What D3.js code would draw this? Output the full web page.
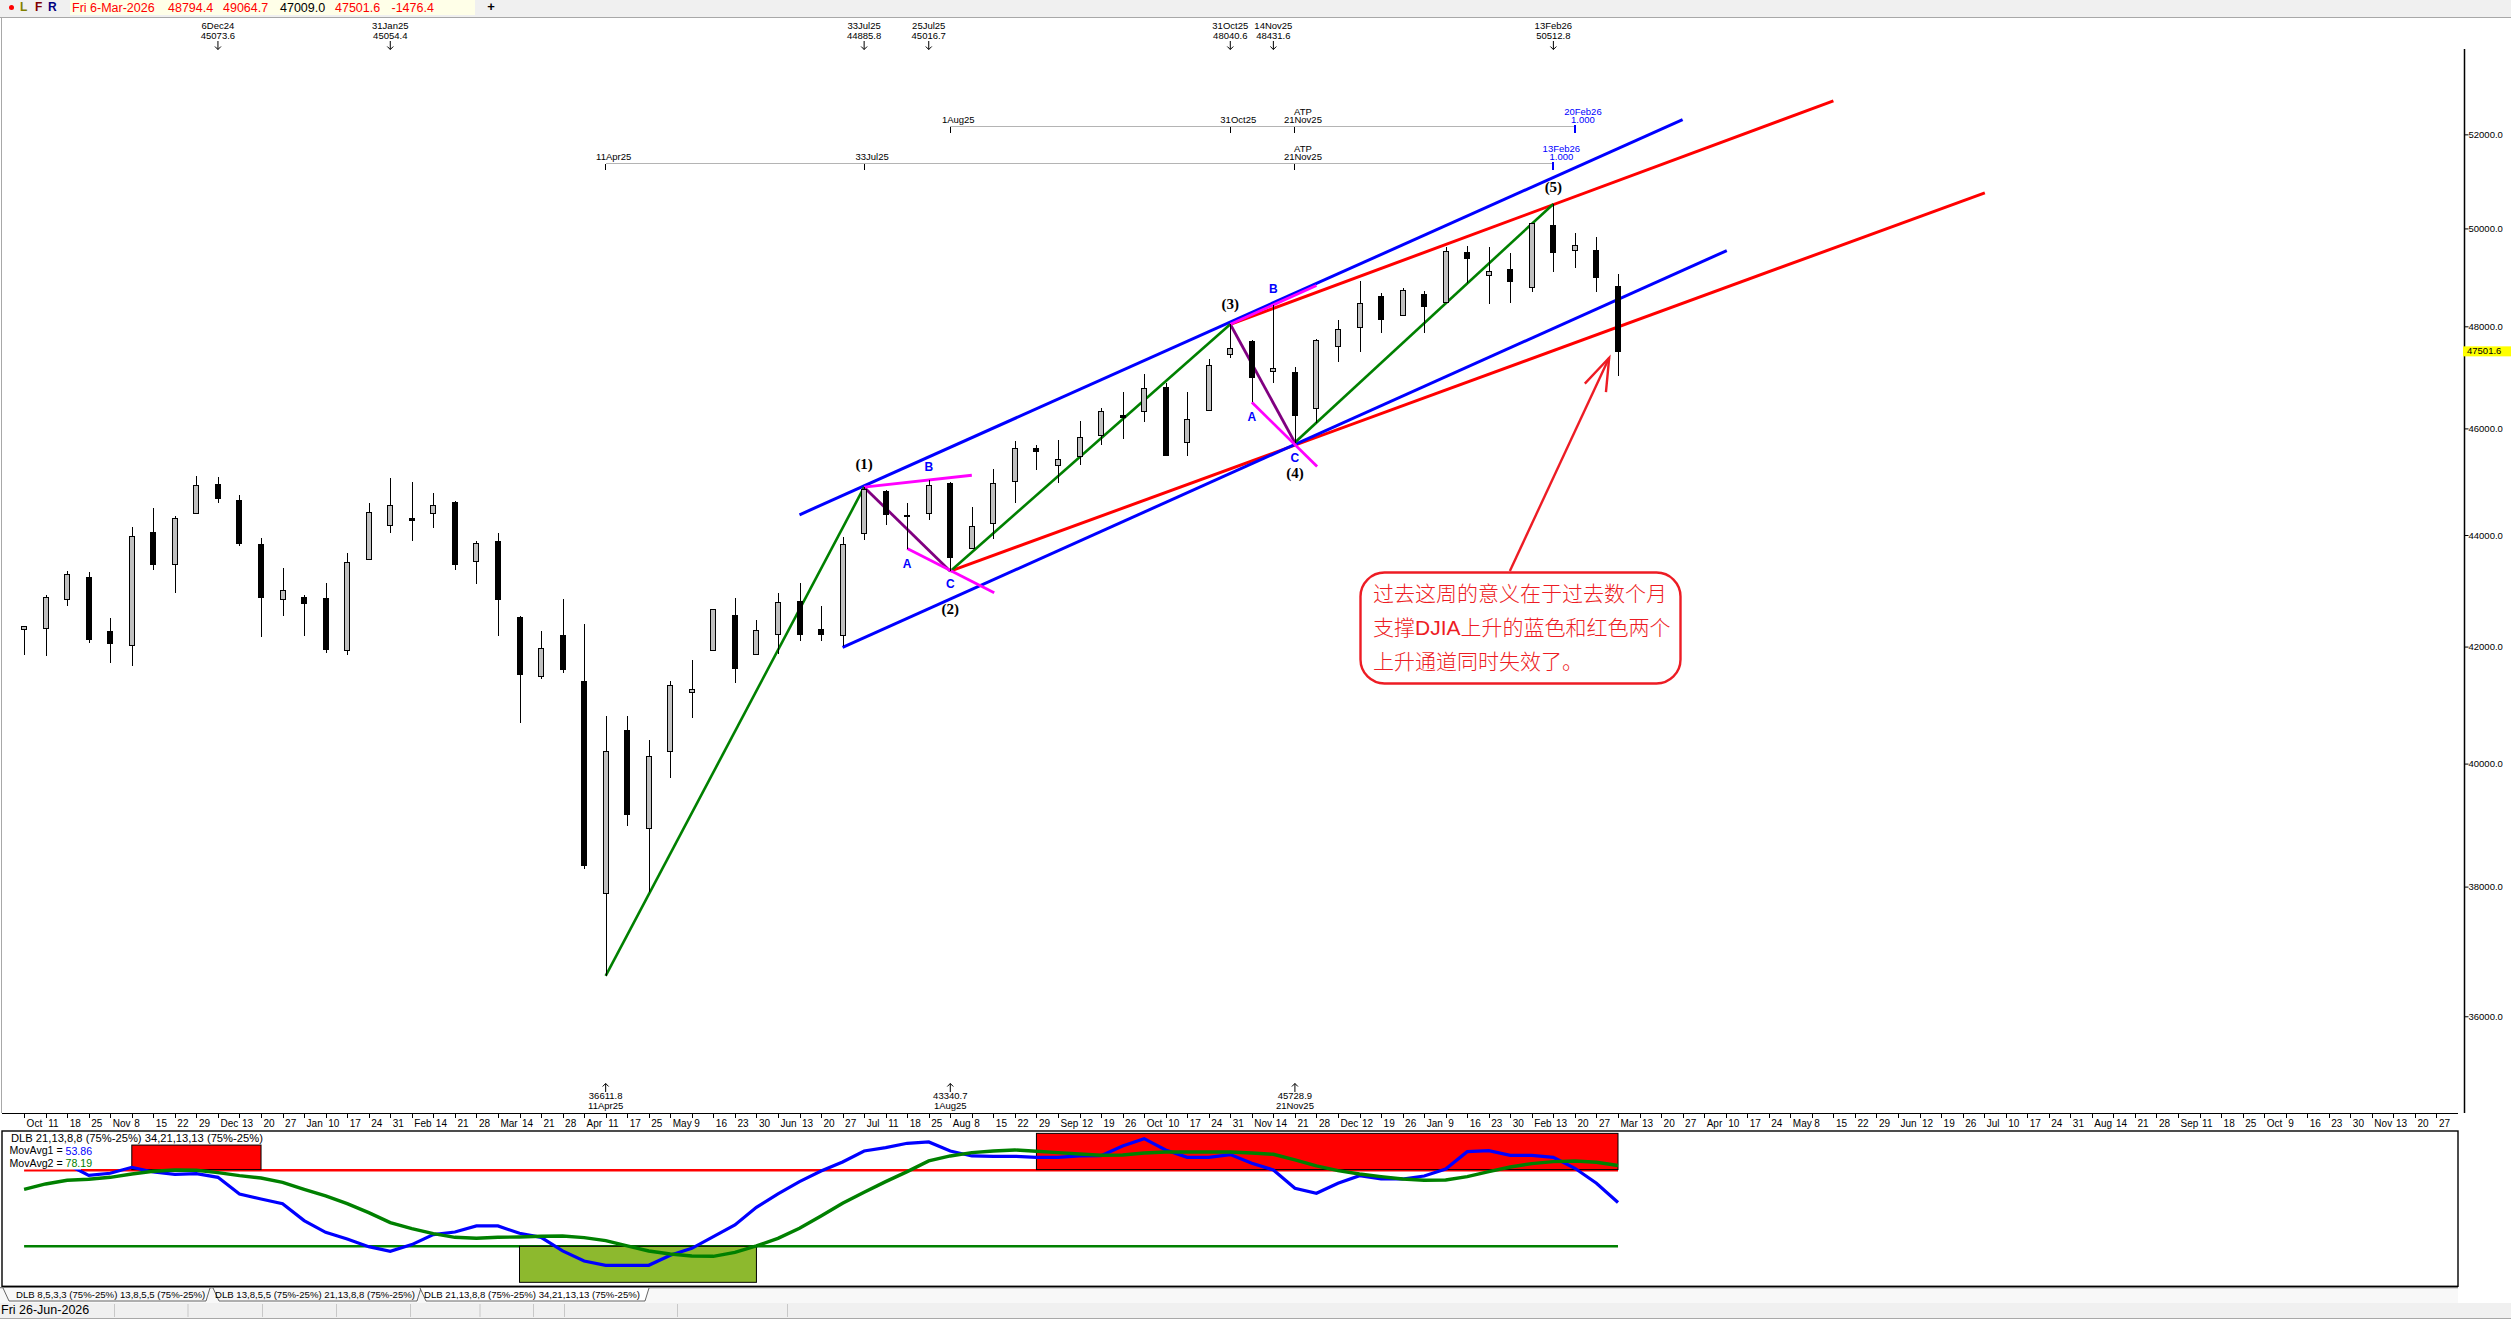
<!DOCTYPE html>
<html>
<head>
<meta charset="utf-8">
<title>DJIA weekly</title>
<script src="https://cdn.jsdelivr.net/npm/d3@7/dist/d3.min.js"></script>
<style>
html, body { margin: 0; padding: 0; background: #fff; overflow: hidden; }
text { font-family: "Liberation Sans", Arial, sans-serif; font-size: 9.5px; fill: #000; }
</style>
</head>
<body>
<svg id="chart" width="2511" height="1320"></svg>
<script>
// weekly bars, 4 Oct 2024 to 6 Mar 2026
var opens = [42307,42313,42833,43227,42259,42027,44054,43460,44404,44935,44635,43818,42833,42869,42851,41934,43550,44166,44297,44404,44597,43514,43890,42510,41472,42188,41393,37897,40555,38935,40196,41199,41923,42546,41866,42218,42797,42295,42188,44036,44804,44341,44392,44960,43747,44205,44992,45610,45303,45460,45865,46239,46317,46787,45723,46337,47434,47689,47113,47081,46376,47602,47975,48594,48219,48635,48484,49499,49024,49146,48790,50051,49546,49534,48794.4];
var highs = [42367,42911,43341,43323,42498,44147,44491,44341,45091,45073.6,44735,43950,43394,42911,43126,43663,44585,45054.4,44978,44772,44635,43890,44041,42546,42265,42839,42391,40800,40800,40390,41393,41774,42672,42857,42463,42946,43126,42713,43968,44885.8,44829,44585,45016.7,44975,44510,45222,45760,45685,45785,46147,46402,46709,47062,46885,46695,47342,48040.6,47720,48431.6,47199,47747,48131,48907,48676,48778,48717,49616,49636,49616,49499,50123,50512.8,49902,49820,49064.7];
var lows = [41860,41843,42719,42056,41712,41660,43364,42952,44404,44591,43795,42164,42540,42182,41883,41848,43550,44029,43884,44122,43364,43114,42182,40686,41438,41541,38280,36611.8,38978,37921,39758,40772,41917,41370,41848,41866,42092,42092,42002,43901,44178,43753,44285,43340.7,43735,43927,44585,45209,44973,45303,45678,45790,46114,45490,45472,46329,47367,46505,46872,45728.9,46102,47289,47485,47857,48212,47857,48478,48880,48443,48464,48688,49097,49173,48688,47009];
var closes = [42349,42869,43281,42128,42056,43980,43454,44297,44916,44666,43848,42863,42994,42755,41951,43496,44422,44541,44272,44541,43454,43836,42827,41507,41974,41592,38328,40208,39157,40111,41324,41256,42654,41626,42277,42779,42218,42218,43819,44848,44385,44355,44909,43597,44159,44947,45621,45565,45404,45835,46317,46206,46768,45490,46180,47218,47563,46995,47160,46251,47708,47943,48451,48137,48717,48402,49514,49383,49105,48913,50106,49506,49636,48995,47501.6];

var priceTicks = [52000,50000,48000,46000,44000,42000,40000,38000,36000];
var weekLabels = ["Oct","11","18","25","Nov","8","15","22","29","Dec","13","20","27","Jan","10","17","24","31","Feb","14","21","28","Mar","14","21","28","Apr","11","17","25","May","9","16","23","30","Jun","13","20","27","Jul","11","18","25","Aug","8","15","22","29","Sep","12","19","26","Oct","10","17","24","31","Nov","14","21","28","Dec","12","19","26","Jan","9","16","23","30","Feb","13","20","27","Mar","13","20","27","Apr","10","17","24","May","8","15","22","29","Jun","12","19","26","Jul","10","17","24","31","Aug","14","21","28","Sep","11","18","25","Oct","9","16","23","30","Nov","13","20","27"];

// oscillator
var movAvg1 = [80,81,79,71.71,73.03,76.97,73.9,72.37,72.81,70.39,59.43,56.14,53.07,41.89,34.21,29.82,24.78,21.71,26.1,32.68,34.43,38.38,38.38,33.55,30.92,21.93,15.35,12.5,12.5,12.5,19.08,23.68,31.36,39.04,50.66,59.43,67.54,74.56,80.48,87.72,89.91,92.76,93.64,87.72,84.43,84.21,84.21,83.55,83.55,84.43,84.65,91.01,95.83,88.38,83.55,83.55,85.31,79.61,75.22,63.16,59.87,66.45,71.49,69.3,69.3,71.27,75.88,87.28,87.94,84.87,84.87,83.55,76.32,66.45,53.86];
var movAvg2 = [62.5,66.01,68.42,69.08,70.39,72.59,74.34,75.22,75,73.46,71.49,69.96,67.11,62.5,58.11,53.07,47.15,40.57,36.62,33.33,30.92,30.26,30.92,31.14,31.58,31.8,30.7,28.73,25.22,21.93,19.96,18.64,18.42,21.05,25.22,30.26,36.84,44.96,53.29,60.53,67.54,74.12,81.14,84.43,86.62,87.72,88.38,87.5,86.62,85.75,84.87,85.09,86.4,87.06,87.06,87.06,87.06,86.4,85.53,81.8,77.85,74.78,72.59,70.83,69.3,68.42,68.64,70.83,74.12,77.19,79.39,80.7,81.14,80.26,78.19];
var upperLevel = 75, lowerLevel = 25;
var hotZones = [[5,11,91.6],[47,74,99.3]];   // first bar, last bar, top value
var coldZones = [[23,34,1.3]];

// pivots
var highPivots = [[9,"6Dec24","45073.6"],[17,"31Jan25","45054.4"],[39,"33Jul25","44885.8"],[42,"25Jul25","45016.7"],[56,"31Oct25","48040.6"],[58,"14Nov25","48431.6"],[71,"13Feb26","50512.8"]];
var lowPivots = [[27,"36611.8","11Apr25"],[43,"43340.7","1Aug25"],[59,"45728.9","21Nov25"]];

// trend lines as [bar, price] pairs
var blueLines = [[[36,44373],[77,52321]],[[38,41985],[79.05,49540]]];
var redLines = [[[56,48040.6],[84,52731]],[[43,43340.7],[91.03,50748]]];
var greenLines = [[[27,36611.8],[39,44885.8]],[[43,43340.7],[56,48040.6]],[[59,45728.9],[71,50512.8]]];
var purpleLines = [[[39,44885.8],[43,43340.7]],[[56,48040.6],[59,45728.9]]];
var magentaLines = [[[41,43753],[45.04,42952]],[[39,44885.8],[44,45110]],[[57,46505],[60.03,45273]],[[56,48040.6],[60,48825]]];

var waveLabels = [["(1)",39,45297],["(2)",43,42642],["(3)",56,48417],["(4)",59,45129],["(5)",71,50846]];
var abcLabels = [["A",41,43453],["B",42,45254],["C",43,43095],["A",57,46200],["B",58,48731],["C",59,45423]];

// time cycle rulers
var rulerUpper = [[43,"","1Aug25"],[56,"","31Oct25"],[59,"ATP","21Nov25"],[72,"20Feb26","1.000"]];
var rulerLower = [[27,"","11Apr25"],[39,"","33Jul25"],[59,"ATP","21Nov25"],[71,"13Feb26","1.000"]];

var noteLines = ["过去这周的意义在于过去数个月","支撑DJIA上升的蓝色和红色两个","上升通道同时失效了。"];
var noteArrow = [[68.98,43346],[73.59,47375]];
var noteBarbs = [[72.46,46866],[73.59,47375],[73.44,46701]];

var tabNames = ["DLB 8,5,3,3 (75%-25%) 13,8,5,5 (75%-25%)","DLB 13,8,5,5 (75%-25%) 21,13,8,8 (75%-25%)","DLB 21,13,8,8 (75%-25%) 34,21,13,13 (75%-25%)"];

var svg = d3.select("#chart");
var x = d3.scaleLinear().domain([0,74]).range([24.1,1618]);
var y = d3.scaleLog().domain([53884,34577]).range([49,1113]);
var yOsc = d3.scaleLinear().domain([0,100]).range([1284.3,1132.3]);
var bars = d3.range(opens.length);

function addText(g, str, px, py, anchor, color){
    return g.append("text").attr("x",px).attr("y",py).attr("text-anchor",anchor||"start")
        .attr("dominant-baseline","middle").style("fill",color||"#000").text(str);
}

// top toolbar
var bar = svg.append("g");
bar.append("rect").attr("width",2511).attr("height",17).attr("fill","#f0f0f0");
bar.append("rect").attr("x",0).attr("y",17).attr("width",2511).attr("height",1).attr("fill","#a8a8a8");
bar.append("rect").attr("x",70).attr("y",0).attr("width",405).attr("height",15).attr("fill","#ffffe8");
bar.append("circle").attr("cx",11.5).attr("cy",7.5).attr("r",2.5).attr("fill","#f00");
addText(bar,"L",20,8,"start","#808000").style("font-size","12px").style("font-weight","bold");
addText(bar,"F",35,8,"start","#800000").style("font-size","12px").style("font-weight","bold");
addText(bar,"R",48,8,"start","#000080").style("font-size","12px").style("font-weight","bold");
var ohlcText = [["Fri 6-Mar-2026",72,"#f00"],["48794.4",168,"#f00"],["49064.7",223,"#f00"],["47009.0",280,"#000"],["47501.6",335,"#f00"],["-1476.4",391.5,"#f00"]];
ohlcText.forEach(function(d){
    addText(bar,d[0],d[1],8.5,"start",d[2]).style("font-size","12.5px");
});
addText(bar,"+",491,8,"middle","#000").style("font-size","13px").style("font-weight","bold");
svg.append("rect").attr("x",1).attr("y",18).attr("width",1).attr("height",1095).attr("fill","#a8a8a8");

// right price axis
var yAxis = d3.axisRight(y).tickValues(priceTicks).tickSize(4).tickFormat(function(d){ return d.toFixed(1); });
var yG = svg.append("g").attr("transform","translate(2464.5,0)").call(yAxis);
yG.select(".domain").attr("stroke-width",1.5).attr("d","M0,49V1113");
yG.selectAll("text").attr("x",4).style("font-family",'"Liberation Sans"').style("font-size","9.5px");
svg.append("rect").attr("x",2463).attr("y",y(47501.6)-5).attr("width",48).attr("height",10).attr("fill","#ff0");
addText(svg,"47501.6",2467,y(47501.6));

// trend lines under the bars
function drawLines(list, color, width){
    svg.append("g").selectAll("line").data(list).enter().append("line")
        .attr("x1",function(d){ return x(d[0][0]); })
        .attr("y1",function(d){ return y(d[0][1]); })
        .attr("x2",function(d){ return x(d[1][0]); })
        .attr("y2",function(d){ return y(d[1][1]); })
        .attr("stroke",color).attr("stroke-width",width);
}
drawLines(redLines,"#f00",3);
drawLines(blueLines,"#00f",3);
drawLines(greenLines,"#008000",2.6);
drawLines(purpleLines,"#800080",2.8);
drawLines(magentaLines,"#f0f",2.8);

// candles
var candleG = svg.append("g");
candleG.selectAll("line").data(bars).enter().append("line")
    .attr("x1",function(i){ return Math.round(x(i))+0.5; })
    .attr("x2",function(i){ return Math.round(x(i))+0.5; })
    .attr("y1",function(i){ return y(highs[i]); })
    .attr("y2",function(i){ return y(lows[i]); })
    .attr("stroke","#000").attr("stroke-width",1).attr("shape-rendering","crispEdges");
candleG.selectAll("rect").data(bars).enter().append("rect")
    .attr("x",function(i){ return Math.round(x(i))-2.5; })
    .attr("width",5)
    .attr("y",function(i){ return y(Math.max(opens[i],closes[i])); })
    .attr("height",function(i){ return Math.max(1,y(Math.min(opens[i],closes[i]))-y(Math.max(opens[i],closes[i]))); })
    .attr("fill",function(i){ return closes[i]>=opens[i] ? "#c0c0c0" : "#000"; })
    .attr("stroke","#000").attr("stroke-width",1).attr("shape-rendering","crispEdges");

// wave counts
var waveG = svg.append("g");
waveLabels.forEach(function(d){
    addText(waveG,d[0],x(d[1]),y(d[2]),"middle","#000").style("font-family",'"Liberation Serif"').style("font-weight","bold").style("font-size","15px");
});
abcLabels.forEach(function(d){
    addText(waveG,d[0],x(d[1]),y(d[2]),"middle","#00f").style("font-weight","bold").style("font-size","12px");
});

// pivot labels
var pivotG = svg.append("g");
highPivots.forEach(function(d){
    var px = x(d[0]);
    addText(pivotG,d[1],px,26.7,"middle");
    addText(pivotG,d[2],px,36.7,"middle");
    pivotG.append("path").attr("d","M"+px+",41V49.5M"+(px-3)+",46.5L"+px+",49.5L"+(px+3)+",46.5").attr("fill","none").attr("stroke","#000");
});
lowPivots.forEach(function(d){
    var px = x(d[0]);
    pivotG.append("path").attr("d","M"+px+",1092V1083.5M"+(px-3)+",1086.5L"+px+",1083.5L"+(px+3)+",1086.5").attr("fill","none").attr("stroke","#000");
    addText(pivotG,d[1],px,1096.7,"middle");
    addText(pivotG,d[2],px,1106.7,"middle");
});

// time rulers
function drawRuler(list, lineY){
    var g = svg.append("g");
    g.append("line").attr("x1",x(list[0][0])).attr("x2",x(list[list.length-1][0])).attr("y1",lineY).attr("y2",lineY)
        .attr("stroke","#b4b4b4").attr("stroke-width",1).attr("shape-rendering","crispEdges");
    list.forEach(function(d,n){
        var last = n==list.length-1;
        var color = last ? "#00f" : "#000";
        g.append("line").attr("x1",x(d[0])).attr("x2",x(d[0])).attr("y1",last?lineY-2:lineY).attr("y2",lineY+6)
            .attr("stroke",last?"#00f":"#000").attr("stroke-width",last?2:1).attr("shape-rendering","crispEdges");
        if(d[1]!="") addText(g,d[1],x(d[0])+8,lineY-14,"middle",color);
        addText(g,d[2],x(d[0])+8,lineY-6,"middle",color);
    });
}
drawRuler(rulerUpper,126.5);
drawRuler(rulerLower,163.5);

// note with arrow
var noteG = svg.append("g");
var arrowLine = d3.line().x(function(d){ return x(d[0]); }).y(function(d){ return y(d[1]); });
noteG.append("path").attr("d",arrowLine(noteArrow)).attr("fill","none").attr("stroke","#ed1c24").attr("stroke-width",2.4);
noteG.append("path").attr("d",arrowLine(noteBarbs)).attr("fill","none").attr("stroke","#ed1c24").attr("stroke-width",2.4);
noteG.append("rect").attr("x",1360.5).attr("y",572.5).attr("width",320).attr("height",111).attr("rx",24)
    .attr("fill","#fff").attr("stroke","#ed1c24").attr("stroke-width",2.4);
noteLines.forEach(function(s,n){
    addText(noteG,s,1373,595+34*n,"start","#ed1c24").style("font-family",'"Liberation Sans","Noto Sans CJK SC"').style("font-weight","300").style("font-size","21px");
});

// time axis
var xAxis = d3.axisBottom(x).tickValues(d3.range(weekLabels.length)).tickSize(4).tickFormat(function(i){ return weekLabels[i]; });
var xG = svg.append("g").attr("transform","translate(0,1113.5)").call(xAxis);
xG.select(".domain").remove();
xG.selectAll(".tick line").attr("shape-rendering","crispEdges");
xG.selectAll("text").attr("text-anchor","start").attr("x",2).attr("y",6.3).style("font-family",'"Liberation Sans"').style("font-size","10px");
svg.append("line").attr("x1",2).attr("x2",2458).attr("y1",1113.5).attr("y2",1113.5).attr("stroke","#000").attr("stroke-width",1.2);

// oscillator panel
var panel = svg.append("g");
panel.append("rect").attr("x",2).attr("y",1131).attr("width",2456).attr("height",155.3).attr("fill","#fff").attr("stroke","#000").attr("stroke-width",1.4);
panel.append("line").attr("x1",x(0)).attr("x2",x(74)).attr("y1",yOsc(upperLevel)).attr("y2",yOsc(upperLevel)).attr("stroke","#f00").attr("stroke-width",2.6);
panel.append("line").attr("x1",x(0)).attr("x2",x(74)).attr("y1",yOsc(lowerLevel)).attr("y2",yOsc(lowerLevel)).attr("stroke","#008000").attr("stroke-width",2.6);
panel.selectAll("rect.hot").data(hotZones).enter().append("rect").attr("class","hot")
    .attr("x",function(d){ return x(d[0]); })
    .attr("width",function(d){ return x(d[1])-x(d[0]); })
    .attr("y",function(d){ return yOsc(d[2]); })
    .attr("height",function(d){ return yOsc(upperLevel)-yOsc(d[2])-0.7; })
    .attr("fill","#f00").attr("stroke","#000");
panel.selectAll("rect.cold").data(coldZones).enter().append("rect").attr("class","cold")
    .attr("x",function(d){ return x(d[0]); })
    .attr("width",function(d){ return x(d[1])-x(d[0]); })
    .attr("y",yOsc(lowerLevel))
    .attr("height",function(d){ return yOsc(d[2])-yOsc(lowerLevel); })
    .attr("fill","#8db92e").attr("stroke","#000");
var oscLine = function(vals){
    return d3.line().x(function(d,i){ return x(i); }).y(function(d){ return yOsc(d); })(vals);
};
panel.append("path").attr("d",oscLine(movAvg1)).attr("fill","none").attr("stroke","#00f").attr("stroke-width",3.2);
panel.append("path").attr("d",oscLine(movAvg2)).attr("fill","none").attr("stroke","#008000").attr("stroke-width",3.4);
// legend sits on top of the lines
panel.append("rect").attr("x",3).attr("y",1133).attr("width",78).attr("height",36.5).attr("fill","#fff");
addText(panel,tabNames[2],11,1139).style("font-size","11.2px");
var leg1 = addText(panel,"MovAvg1 = ",9.5,1151.7).style("font-size","10.6px");
leg1.append("tspan").style("fill","#00f").text(movAvg1[74].toFixed(2));
var leg2 = addText(panel,"MovAvg2 = ",9.5,1164.3).style("font-size","10.6px");
leg2.append("tspan").style("fill","#008000").text(movAvg2[74].toFixed(2));

// tabs and status bar
var foot = svg.append("g");
foot.append("rect").attr("x",0).attr("y",1287).attr("width",2458).attr("height",1.5).attr("fill","#808080");
foot.append("rect").attr("x",0).attr("y",1288.5).attr("width",2458).attr("height",14.5).attr("fill","#f8f8f8");
foot.append("rect").attr("x",0).attr("y",1303).attr("width",2511).attr("height",15).attr("fill","#f0f0f0");
foot.append("rect").attr("x",0).attr("y",1318).attr("width",2511).attr("height",1).attr("fill","#a8a8a8");
var tabEdges = [[3,206,16],[213,417,215],[420,645,424]];
tabEdges.forEach(function(d,n){
    foot.append("path").attr("d","M"+d[0]+",1288L"+(d[0]+6)+",1301H"+d[1]+"L"+(d[1]+4)+",1288")
        .attr("fill",n==2?"#fff":"#f8f8f8").attr("stroke","#404040").attr("stroke-width",0.8);
    addText(foot,tabNames[n],d[2],1295).style("font-size","9.6px");
});
var statusCells = [114,187.5,262,336,410,479.5,533,564,677,787];
statusCells.forEach(function(px){
    foot.append("rect").attr("x",px).attr("y",1304).attr("width",1).attr("height",13).attr("fill","#c8c8c8");
});
addText(foot,"Fri 26-Jun-2026",1,1311).style("font-size","12.5px");
</script>
</body>
</html>
